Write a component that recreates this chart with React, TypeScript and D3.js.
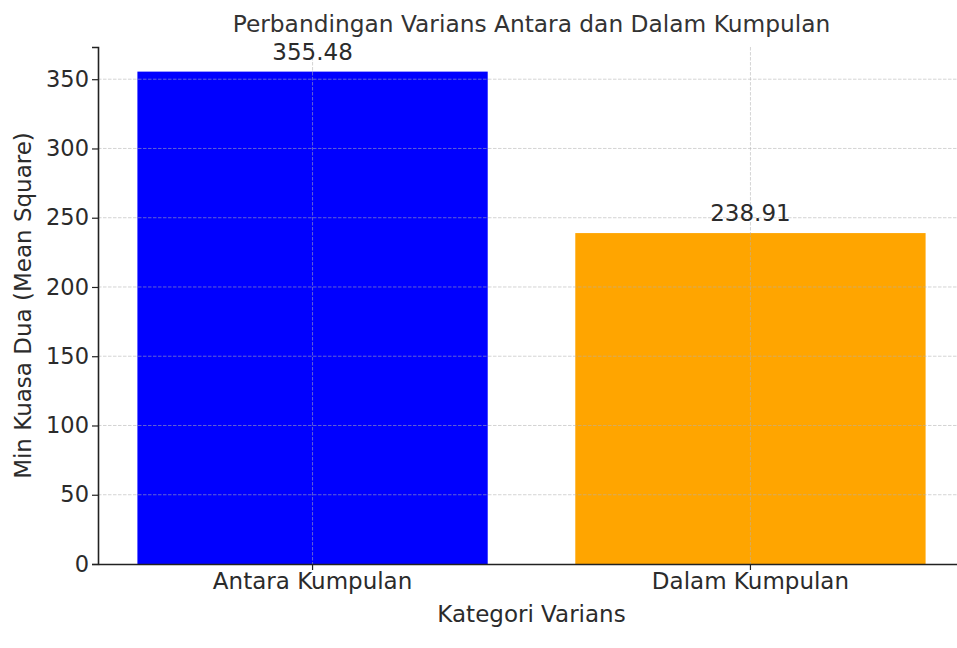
import { useEffect, useRef } from "react";
import * as d3 from "d3";

// ---- data ----
const categories = ["Antara Kumpulan", "Dalam Kumpulan"];
const meanSquares = [355.48, 238.91];
const barColors = ["#0000ff", "#ffa500"];
const yTicks = [0, 50, 100, 150, 200, 250, 300, 350];

const titleText = "Perbandingan Varians Antara dan Dalam Kumpulan";
const xLabelText = "Kategori Varians";
const yLabelText = "Min Kuasa Dua (Mean Square)";

export default function App() {
  const svgRef = useRef<SVGSVGElement | null>(null);

  useEffect(() => {
    const W = 957, H = 648;
    const svg = d3.select(svgRef.current);
    svg.selectAll("*").remove();
    svg.attr("width", W).attr("height", H);

    const font = "'DejaVu Sans', sans-serif";
    const fs = 23;
    const ink = "#2b2b2b";

    // plot area (right edge sits past the picture, as in the reference)
    const left = 98, right = 965, top = 47, bottom = 564;

    svg.append("rect").attr("width", W).attr("height", H).attr("fill", "#fff");

    const x = d3.scaleBand<string>()
      .domain(categories)
      .range([left, right])
      .paddingInner(0.2)
      .paddingOuter(0.09);

    const y = d3.scaleLinear()
      .domain([0, d3.max(meanSquares)! * 1.05])
      .range([bottom, top]);

    const data = categories.map((c, i) => ({ c, v: meanSquares[i], color: barColors[i] }));

    // bars
    svg.append("g").selectAll("rect").data(data).join("rect")
      .attr("x", d => x(d.c)!)
      .attr("width", x.bandwidth())
      .attr("y", d => y(d.v))
      .attr("height", d => y(0) - y(d.v))
      .attr("fill", d => d.color);

    // grid on top of bars
    const grid = svg.append("g")
      .attr("stroke", "#b0b0b0")
      .attr("stroke-opacity", 0.55)
      .attr("stroke-width", 1)
      .attr("stroke-dasharray", "3.5,1.5");
    grid.selectAll("line.h").data(yTicks.filter(t => t > 0)).join("line")
      .attr("class", "h")
      .attr("x1", left).attr("x2", W)
      .attr("y1", d => y(d)).attr("y2", d => y(d));
    grid.selectAll("line.v").data(categories).join("line")
      .attr("class", "v")
      .attr("x1", d => x(d)! + x.bandwidth() / 2)
      .attr("x2", d => x(d)! + x.bandwidth() / 2)
      .attr("y1", top).attr("y2", bottom);

    // value labels
    svg.append("g").selectAll("text").data(data).join("text")
      .attr("x", d => x(d.c)! + x.bandwidth() / 2)
      .attr("y", d => y(d.v) - 12)
      .attr("text-anchor", "middle")
      .attr("font-family", font)
      .attr("font-size", fs)
      .attr("fill", ink)
      .text(d => d.v.toFixed(2));

    // y axis
    const yAxis = svg.append("g").attr("transform", `translate(${left},0)`)
      .call(d3.axisLeft(y).tickValues(yTicks).tickSize(6).tickPadding(3).tickFormat(d3.format("d")));
    yAxis.select(".domain").attr("stroke", "#222").attr("stroke-width", 1.6);
    yAxis.selectAll(".tick line").attr("stroke", "#222").attr("stroke-width", 1.2);
    yAxis.selectAll(".tick text")
      .attr("font-family", font).attr("font-size", fs - 0.5).attr("fill", ink);

    // x axis
    const xAxis = svg.append("g").attr("transform", `translate(0,${bottom})`)
      .call(d3.axisBottom(x).tickSize(6).tickPadding(3).tickSizeOuter(0));
    xAxis.select(".domain").attr("stroke", "#222").attr("stroke-width", 1.6);
    xAxis.selectAll(".tick line").attr("stroke", "#222").attr("stroke-width", 1.2);
    xAxis.selectAll(".tick text")
      .attr("font-family", font).attr("font-size", fs).attr("fill", ink);

    // title and axis labels
    svg.append("text")
      .attr("x", (left + right) / 2).attr("y", 32)
      .attr("text-anchor", "middle")
      .attr("font-family", font).attr("font-size", 23.3).attr("fill", "#333")
      .text(titleText);

    svg.append("text")
      .attr("x", (left + right) / 2).attr("y", 622)
      .attr("text-anchor", "middle")
      .attr("font-family", font).attr("font-size", fs).attr("fill", ink)
      .text(xLabelText);

    svg.append("text")
      .attr("transform", `translate(31,${(top + bottom) / 2}) rotate(-90)`)
      .attr("text-anchor", "middle")
      .attr("font-family", font).attr("font-size", fs).attr("fill", ink)
      .text(yLabelText);
  }, []);

  return <svg ref={svgRef} style={{ position: "absolute", left: 0, top: 0, display: "block" }} />;
}
